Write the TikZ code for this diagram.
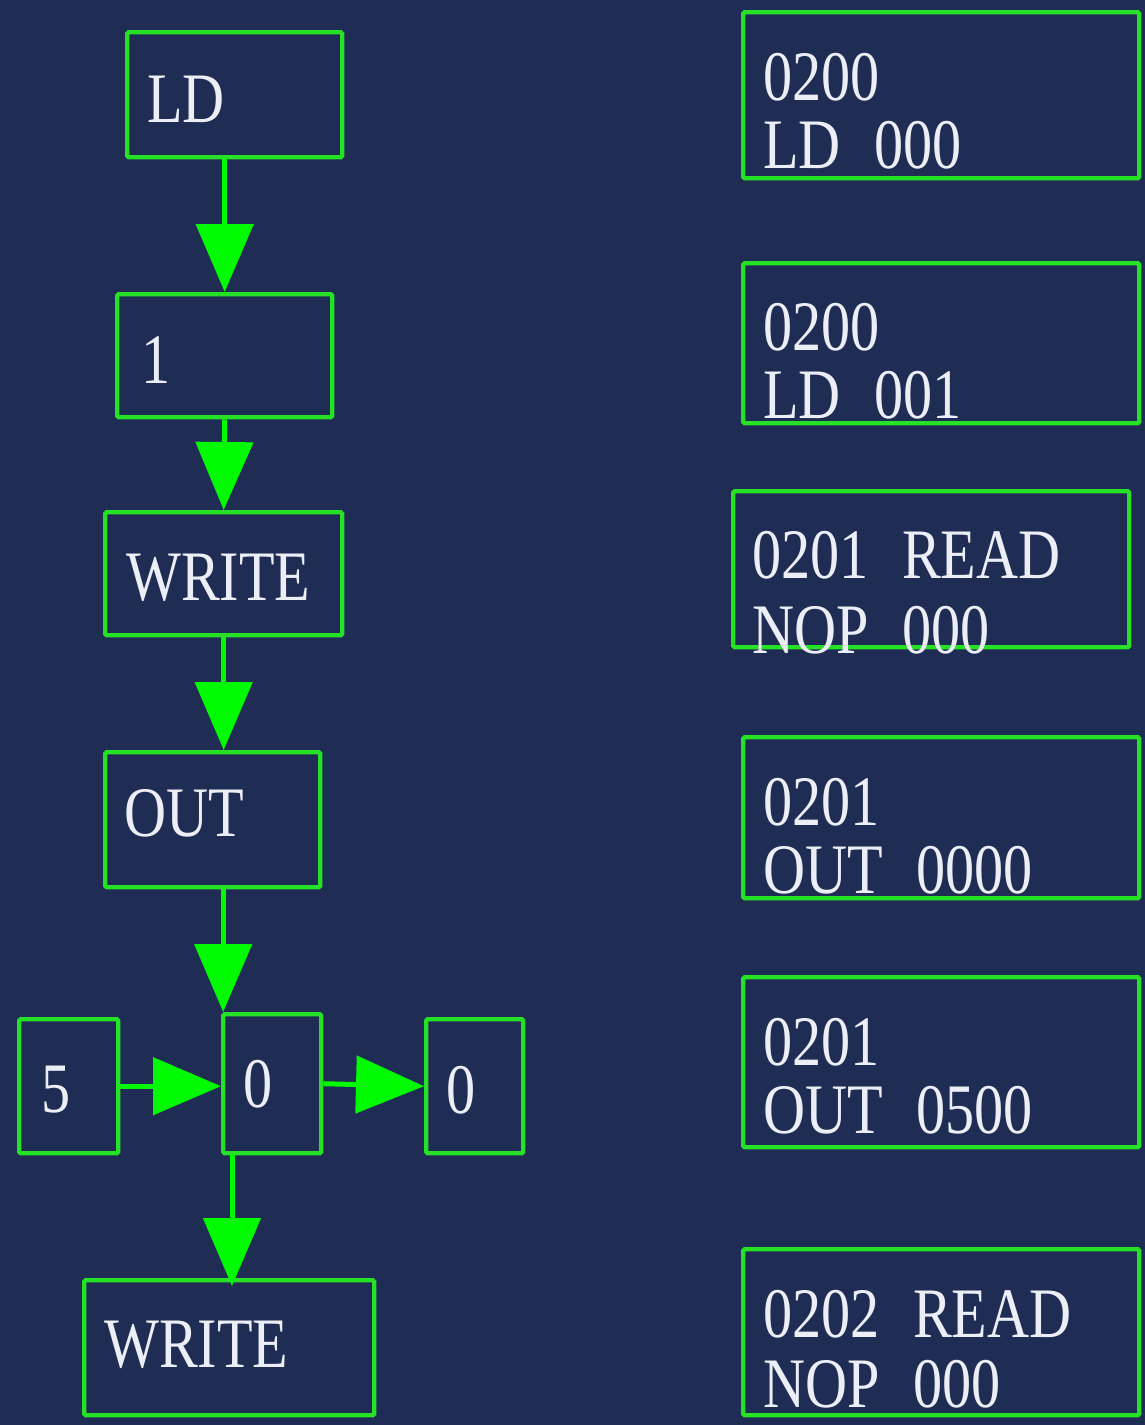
\documentclass[tikz,border=0pt]{standalone}
\usepackage{fontspec}
\newfontfamily\boxfont[FakeStretch=0.82,WordSpace=2.3]{Liberation Serif}
\usetikzlibrary{arrows.meta}
\definecolor{panel}{RGB}{31,45,84}
\definecolor{boxgreen}{RGB}{38,225,38}
\definecolor{arrgreen}{RGB}{0,250,0}
\definecolor{txtwhite}{RGB}{236,238,246}

\tikzset{
  blk/.style={draw=boxgreen,line width=4.4pt,rounded corners=1.5pt,inner sep=0pt,anchor=north west},
  txt/.style={text=txtwhite,font={\boxfont\fontsize{71}{68}\selectfont},inner sep=0pt,anchor=base west},
  flow/.style={draw=arrgreen,line width=5pt,-{Triangle[length=68pt,width=57pt]}},
}

\begin{document}
\begin{tikzpicture}[x=1pt,y=-1pt]
  \fill[panel] (0,0) rectangle (1145,1425);
  \useasboundingbox (0,0) rectangle (1145,1425);
  % left column
  \node[blk,minimum width=215pt,minimum height=125pt] (ld) at (125,30) {};
  \node[blk,minimum width=215pt,minimum height=123pt] (one) at (115,292) {};
  \node[blk,minimum width=237pt,minimum height=123pt] (wra) at (103,510) {};
  \node[blk,minimum width=215pt,minimum height=135pt] (out) at (103,750) {};
  \node[blk,minimum width=99pt,minimum height=134pt] (five) at (17,1017) {};
  \node[blk,minimum width=98pt,minimum height=139pt] (zmid) at (221,1012) {};
  \node[blk,minimum width=97pt,minimum height=134pt] (zrt) at (424,1017) {};
  \node[blk,minimum width=290pt,minimum height=135pt] (wrb) at (82,1278) {};
  \node[txt] (ldt) at (147,122) {LD};
  \node[txt] (onet) at (141,383) {1};
  \node[txt] (wrat) at (126,600) {WRITE};
  \node[txt] (outt) at (124,836) {OUT};
  \node[txt] (fivet) at (41,1112) {5};
  \node[txt] (zmidt) at (243,1107) {0};
  \node[txt] (zrtt) at (446,1113) {0};
  \node[txt] (wrbt) at (104,1367) {WRITE};
  % connectors
  \draw[flow] (one.north |- ld.south) -- (one.north);
  \draw[flow] (one.south) -- (wra.north);
  \draw[flow] (wra.south) -- (wra.south |- out.north);
  \draw[flow] ([xshift=10.5pt]out.south) -- ([xshift=10.5pt]out.south |- zmid.north);
  \draw[flow] (five.east) -- (five.east -| zmid.west);
  \draw[flow] (zmid.east) -- (zrt.west);
  \draw[flow] ([xshift=11pt]zmid.south west) -- ([xshift=11pt,yshift=-8pt]zmid.south west |- wrb.north);
  % right column
  \node[blk,minimum width=396pt,minimum height=166pt] (ra) at (741,10) {};
  \node[blk,minimum width=396pt,minimum height=160pt] (rb) at (741,261) {};
  \node[blk,minimum width=396pt,minimum height=156pt] (rc) at (731,489) {};
  \node[blk,minimum width=396pt,minimum height=161pt] (rd) at (741,735) {};
  \node[blk,minimum width=396pt,minimum height=170pt] (re) at (741,975) {};
  \node[blk,minimum width=396pt,minimum height=166pt] (rf) at (741,1247) {};
  \node[txt] at (763,100) {0200};
  \node[txt] at (763,168) {LD 000};
  \node[txt] at (763,350) {0200};
  \node[txt] at (763,418) {LD 001};
  \node[txt] at (752,578) {0201 READ};
  \node[txt] at (752,653) {NOP 000};
  \node[txt] at (763,825) {0201};
  \node[txt] at (763,893) {OUT 0000};
  \node[txt] at (763,1065) {0201};
  \node[txt] at (763,1133) {OUT 0500};
  \node[txt] at (763,1337) {0202 READ};
  \node[txt] at (763,1407) {NOP 000};
\end{tikzpicture}
\end{document}
